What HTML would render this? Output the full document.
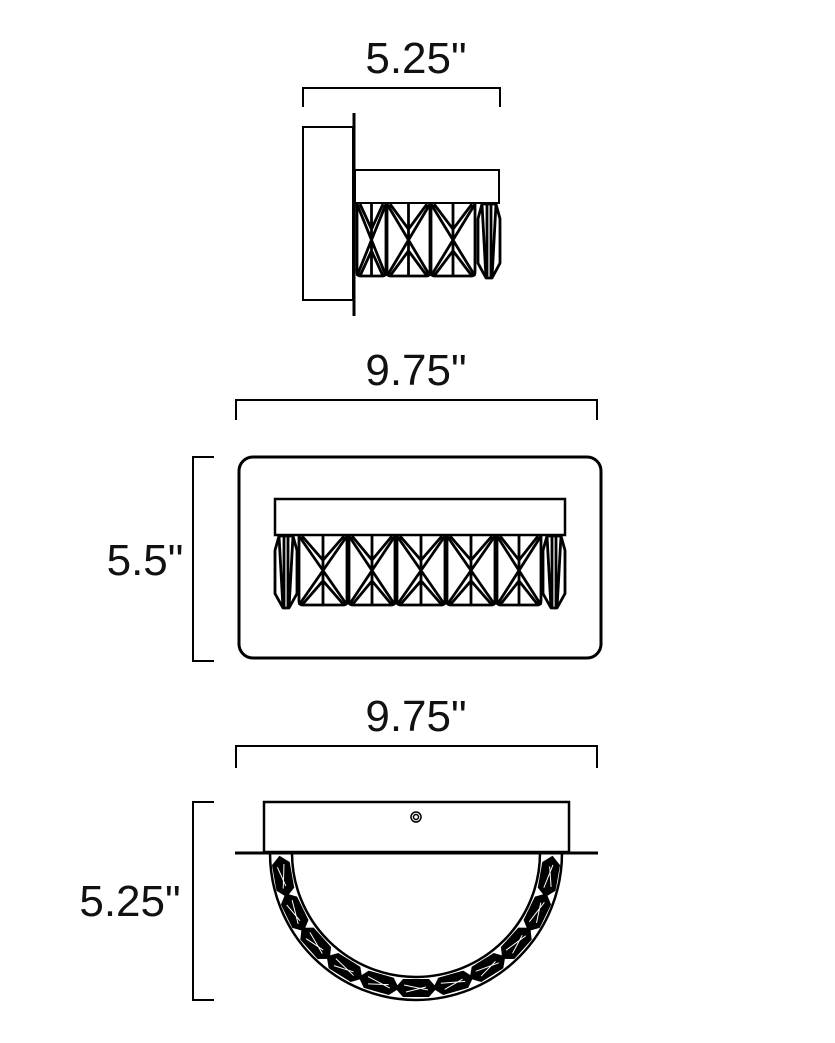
<!DOCTYPE html>
<html><head><meta charset="utf-8"><style>
html,body{margin:0;padding:0;background:#fff;}
svg{display:block;}
text{font-family:"Liberation Sans",sans-serif;font-size:44px;fill:#111;}
</style></head><body>
<svg id="s" width="835" height="1043" viewBox="0 0 835 1043" xmlns="http://www.w3.org/2000/svg">
<g fill="none" stroke="#000" stroke-width="2">
<path d="M303 107V88H500V107"/>
<path d="M236 420V400H597V420"/>
<path d="M236 768V746H597V768"/>
<path d="M214 457H193V661H214"/>
<path d="M214 802H193V1000H214"/>
<rect x="303" y="127" width="50" height="173"/>
<line x1="354" y1="113" x2="354" y2="316" stroke-width="3"/>
<rect x="355" y="170" width="144" height="33"/>
<rect x="239" y="457" width="362" height="201" rx="14" stroke-width="3"/>
<rect x="275" y="499" width="290" height="36" stroke-width="2.5"/>
<rect x="264" y="802" width="305" height="50" stroke-width="2.5"/>
<line x1="235" y1="853" x2="598" y2="853" stroke-width="3"/>
<circle cx="416" cy="817" r="5" stroke-width="1.5"/>
<circle cx="416" cy="817" r="2.5" stroke-width="1.5"/>
<path d="M270 853 A146 147 0 0 0 562 853" stroke-width="2.5"/>
<path d="M292 853 A124 124 0 0 0 540 853" stroke-width="2.5"/>
</g>
<g id="cr" fill="none" stroke="#000" stroke-width="2.8" stroke-linejoin="round"></g>
<g id="arc"></g>
<text x="416" y="73" text-anchor="middle">5.25"</text>
<text x="416" y="385" text-anchor="middle">9.75"</text>
<text x="145" y="575" text-anchor="middle">5.5"</text>
<text x="416" y="731" text-anchor="middle">9.75"</text>
<text x="130" y="916" text-anchor="middle">5.25"</text>
</svg>
<script>
var g=document.getElementById('cr'),out='';
function rc(x0,x1,y0,y1){var w=x1-x0,r=4;
out+='<path d="M'+x0+' '+y0+'V'+(y1-r)+'Q'+x0+' '+y1+' '+(x0+r)+' '+y1+'H'+(x1-r)+'Q'+x1+' '+y1+' '+x1+' '+(y1-r)+'V'+y0+'"/>';
var m=(x0+x1)/2;
out+='<path d="M'+x0+' '+y0+'L'+x1+' '+y1+'M'+x1+' '+y0+'L'+x0+' '+y1+'M'+m+' '+y0+'V'+y1+'M'+(x0+3)+' '+y0+'L'+m+' '+(y0+(y1-y0)*0.35)+'L'+(x1-3)+' '+y0+'M'+(x0+3)+' '+y1+'L'+m+' '+(y1-(y1-y0)*0.35)+'L'+(x1-3)+' '+y1+'"/>';}
function nr(x0,x1,y0,y1){var m=(x0+x1)/2,h=y1-y0;
out+='<path d="M'+(x0+4)+' '+y0+'L'+x0+' '+(y0+h*0.2)+'V'+(y0+h*0.8)+'L'+(m-3)+' '+y1+'H'+(m+3)+'L'+x1+' '+(y0+h*0.8)+'V'+(y0+h*0.2)+'L'+(x1-4)+' '+y0+'Z"/>';
out+='<path d="M'+(m-2)+' '+y0+'V'+y1+'M'+(m+2)+' '+y0+'V'+y1+'M'+(x0+4)+' '+y0+'L'+(m-3)+' '+y1+'M'+(x1-4)+' '+y0+'L'+(m+3)+' '+y1+'"/>';}
rc(357,386,204,276);rc(387,430,204,276);rc(431,475,204,276);nr(478,500,204,278);
nr(275,297,536,608);rc(299,347,536,605);rc(349,395,536,605);rc(397,445,536,605);rc(447,495,536,605);rc(497,541,536,605);nr(543,565,536,608);
g.innerHTML=out;
var a=document.getElementById('arc'),o='';
[-80,-64,-48,-32,-16,0,16,32,48,64,80].forEach(function(d){var p=d*Math.PI/180,r=135;
var x=416-r*Math.sin(p),y=853+r*Math.cos(p);
o+='<g transform="translate('+x.toFixed(1)+' '+y.toFixed(1)+') rotate('+d+')"><polygon points="-21,0 -13,-9 13,-9 21,0 13,9 -13,9" fill="#000"/><path d="M-12,-3 L12,2 M-10,4 L10,-1" stroke="#fff" stroke-width="1"/></g>';});
a.innerHTML=o;
</script>
</body></html>
